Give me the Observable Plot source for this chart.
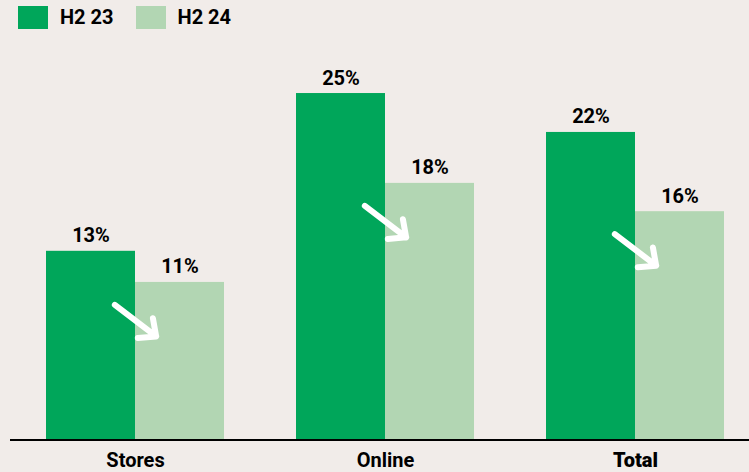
<!DOCTYPE html>
<html>
<head>
<meta charset="utf-8">
<script src="https://cdn.jsdelivr.net/npm/d3@7"></script>
<script src="https://cdn.jsdelivr.net/npm/@observablehq/plot@0.6"></script>
<style>
  html, body { margin: 0; padding: 0; background: #f1ece9; }
  #wrap { position: relative; width: 749px; height: 472px; overflow: hidden; font-family: Roboto, "Noto Sans", sans-serif; }
  .legend { position: absolute; top: 5px; left: 18px; display: flex; align-items: center; font-weight: 700; font-size: 20px; color: #000; }
  .legend .item { display: flex; align-items: center; margin-right: 22px; }
  .legend .sw { width: 30px; height: 23px; margin-right: 12px; }
  svg { display: block; }
</style>
</head>
<body>
<div id="wrap"></div>
<script>
const categories = ["Stores", "Online", "Total"];
const periods = ["H2 23", "H2 24"];
const valuesH223 = [13.3, 24.45, 21.7];
const valuesH224 = [11.1, 18.1, 16.1];
const labelsH223 = ["13%", "25%", "22%"];
const labelsH224 = ["11%", "18%", "16%"];
const colors = ["#00a65a", "#b2d6b3"];

const rows = [];
categories.forEach((c, i) => {
  rows.push({category: c, period: periods[0], value: valuesH223[i], label: labelsH223[i]});
  rows.push({category: c, period: periods[1], value: valuesH224[i], label: labelsH224[i]});
});
const arrows = categories.map((c, i) => ({category: c, from: periods[0], to: periods[1], v: valuesH224[i]}));

const plot = Plot.plot({
  width: 749,
  height: 472,
  marginTop: 14.5,
  marginBottom: 33,
  marginLeft: 10,
  marginRight: 0,
  style: {background: "transparent", fontFamily: "Roboto, 'Noto Sans', sans-serif"},
  fx: {domain: categories, range: [10, 760], paddingInner: 0.288, paddingOuter: 0.144, axis: "bottom", label: null, tickSize: 0, tickPadding: 13},
  x: {domain: periods, padding: 0, axis: null},
  y: {domain: [0, 30], axis: null},
  color: {domain: periods, range: colors},
  marks: [
    Plot.barY(rows, {fx: "category", x: "period", y: "value", fill: "period"}),
    Plot.text(rows, {fx: "category", x: "period", y: "value", text: "label", lineAnchor: "bottom", dy: -9, fontSize: 20, fontWeight: 700, fill: "#000"}),
    Plot.arrow(arrows, {fx: "category", x1: "from", x2: "to", y1: d => d.v - 0.3, y2: d => d.v - 5.1, insetStart: 30, insetEnd: 30, stroke: "white", strokeWidth: 6, headLength: 4.6, headAngle: 85, bend: 0})
  ]
});

// Style fx axis labels
d3.select(plot).selectAll("g[aria-label='fx-axis tick label'] text, g[aria-label='fx-axis'] text")
  .attr("font-size", 20).attr("font-weight", 700).attr("fill", "#000")
  .each(function() { if (this.textContent === "Total") d3.select(this).attr("font-weight", 900); });

// Baseline across the whole chart
const y0 = plot.scale("y").apply(0);
d3.select(plot).append("line")
  .attr("x1", 10).attr("x2", 749).attr("y1", y0 + 1).attr("y2", y0 + 1)
  .attr("stroke", "#000").attr("stroke-width", 2);

const wrap = document.getElementById("wrap");
wrap.appendChild(plot);

const legend = document.createElement("div");
legend.className = "legend";
periods.forEach((p, i) => {
  const item = document.createElement("div");
  item.className = "item";
  const sw = document.createElement("div");
  sw.className = "sw";
  sw.style.background = colors[i];
  const t = document.createElement("span");
  t.textContent = p;
  item.appendChild(sw); item.appendChild(t);
  legend.appendChild(item);
});
wrap.appendChild(legend);
</script>
</body>
</html>
